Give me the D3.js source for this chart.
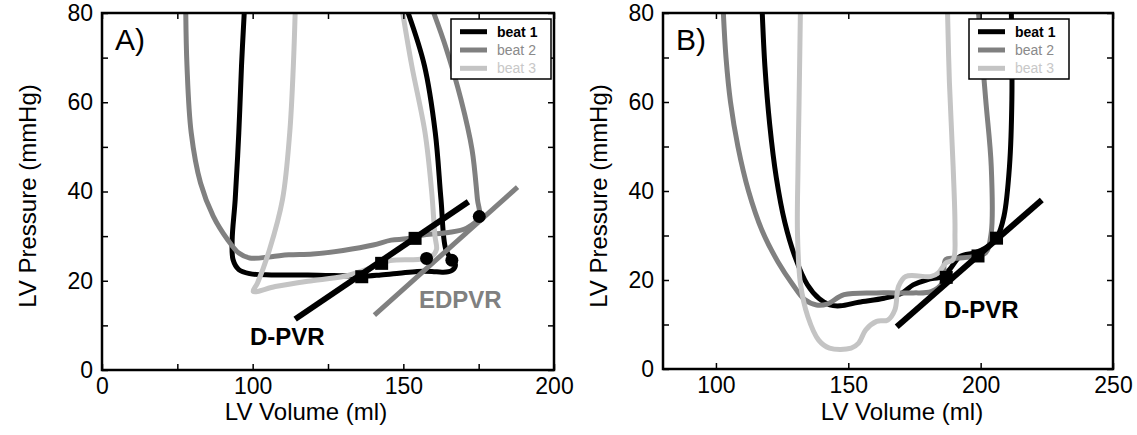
<!DOCTYPE html>
<html>
  <head>
    <meta charset="utf-8">
    <script src="https://cdn.jsdelivr.net/npm/d3@7"></script>
    <style>
      body { margin: 0; background: #fff; }
      svg { font-family: "Liberation Sans", Arial, sans-serif; }
      .tick line { stroke: #000; stroke-width: 1.5px; }
      .tick text { font-size: 23px; fill: #000; }
      .curve { fill: none; stroke-width: 5px; stroke-linejoin: round; stroke-linecap: round; }
    </style>
  </head>
  <body>
    <script>
      // colours of the three beats
      const beatNames = ['beat 1', 'beat 2', 'beat 3'];
      const beatColors = ['#000000', '#808080', '#c4c4c4'];
      const beatTextColors = ['#000000', '#8a8a8a', '#c8c8c8'];

      // panel A: pressure-volume loops (volume ml, pressure mmHg)
      const beat1A = [[97.2,80],[96.3,68.2],[95.4,53.2],[94.2,38.2],[93.2,29.2],[93.5,24.7],[95.4,22.5],[99.0,21.6],
        [106.2,21.3],[118.3,21.3],[130.4,21.1],[136.5,21.0],[142.5,21.3],[148.6,21.7],[154.6,22.1],[159.5,22.1],
        [163.1,21.9],[166.1,22.3],[167.3,23.6],[166.1,24.7],[164.1,27.0],[162.5,38.2],[160.6,53.2],[157.0,68.2],[151.6,80]];
      const beat2A = [[77.8,80],[78.2,68.2],[79.6,53.2],[82.7,41.9],[86.9,34.5],[91.7,29.2],[95.4,26.2],[99.0,25.1],
        [106.2,25.4],[112,25.8],[120,26.0],[130,26.8],[140,28.0],[146,29.1],[151,29.4],[157,30.3],[165,30.8],
        [171,31.8],[175.2,34.3],[174.6,38.2],[172.8,49.4],[169.1,60.7],[164.3,71.9],[160.1,80]];
      const beat3A = [[114.1,80],[113.5,68.2],[112.3,53.2],[109.9,38.2],[105.6,27.0],[101.6,19.5],[100.2,17.6],
        [107.5,18.7],[118.3,19.9],[130.4,21.0],[138,22.6],[145.6,24.5],[155.5,24.8],[159.5,25.5],[161.0,27.0],
        [160.5,30],[159.4,40],[157.2,53.2],[152.8,68.2],[149.8,80]];
      const dpvrA = [[114.1,11.4],[171.6,37.7]];
      const edpvrA = [[140.4,12.3],[187.9,41.0]];
      const squaresA = [[136.2,20.9],[142.8,23.9],[153.9,29.5]];
      const circlesA = [[166.1,24.6],[175.2,34.4],[157.7,25.0]];

      // panel B
      const beat1B = [[117.5,80],[118.5,68],[120.3,55],[122.8,43],[126,33],[130,25],[134.5,19],[139,15.8],
        [143,14.4],[147,14.2],[153.9,15.0],[163.5,15.9],[170.4,17.1],[174.5,18.9],[180,20.1],[185.5,20.8],
        [188.2,22.3],[192.3,25.3],[197.8,26.1],[201.9,27.2],[206.1,29.5],[208.8,34.3],[210.9,45.6],[211.8,60.6],[211.6,80]];
      const beat2B = [[102.8,80],[103.8,70],[105.5,60],[108.3,50],[112.3,40],[117.5,31],[123.5,24],[129,19],
        [133.5,15.6],[138,14.4],[142,14.6],[148.4,16.7],[160.7,17.1],[167.6,17.1],[174.5,17.1],
        [181.3,17.4],[185.5,19.3],[186.8,24.6],[191,24.9],[197.8,25.3],[201.9,26.1],[204,30.6],[204,45.6],[201.9,60.6],[199.2,80]];
      const beat3B = [[131.9,80],[131.4,60],[131.0,45],[130.8,30.6],[131.9,19.3],[134.7,11.8],[138.8,6.5],[142.9,4.7],
        [151.1,4.7],[153.9,5.8],[156.6,8.8],[160.7,10.7],[164.9,11.0],[167.6,13.3],[169,18.6],[171.7,20.8],
        [181.3,20.8],[184,21.6],[186.8,23.8],[189.6,24.6],[190.3,30.6],[189.6,45.6],[188.2,64.4],[187.5,80]];
      const dpvrB = [[168.3,9.5],[223.1,38.0]];
      const squaresB = [[187,20.6],[199,25.4],[206,29.4]];

      // ticks
      const yTickValues = [0,10,20,30,40,50,60,70,80];
      const yTickLabels = ['0','','20','','40','','60','','80'];
      const xTickValuesA = [50,75,100,125,150,175,200];
      const xTickLabelsA = ['0','','100','','150','','200'];
      const xTickValuesB = [100,150,200,250];
      const xTickLabelsB = ['100','150','200','250'];

      const svg = d3.select('body').append('svg')
        .attr('width', 1137)
        .attr('height', 435);

      const panels = [
        {id: 'A', left: 102, right: 554, top: 13, bottom: 370, xDomain: [50, 200],
         xTicks: xTickValuesA, xLabels: xTickLabelsA, beats: [beat1A, beat2A, beat3A],
         dpvr: dpvrA, edpvr: edpvrA, squares: squaresA, circles: circlesA,
         legendX: 451, xTitleX: 306, yTitleX: 36, dpvrLabel: [250, 345], edpvrLabel: [419, 308]},
        {id: 'B', left: 663, right: 1113, top: 13, bottom: 369, xDomain: [80, 250],
         xTicks: xTickValuesB, xLabels: xTickLabelsB, beats: [beat1B, beat2B, beat3B],
         dpvr: dpvrB, edpvr: null, squares: squaresB, circles: [],
         legendX: 969, xTitleX: 902, yTitleX: 607, dpvrLabel: [944, 318], edpvrLabel: null}
      ];

      panels.forEach(p => {
        const x = d3.scaleLinear().domain(p.xDomain).range([p.left, p.right]);
        const y = d3.scaleLinear().domain([0, 80]).range([p.bottom, p.top]);
        const g = svg.append('g');

        g.append('clipPath').attr('id', 'clip' + p.id)
          .append('rect')
          .attr('x', p.left).attr('y', p.top)
          .attr('width', p.right - p.left).attr('height', p.bottom - p.top);

        const line = d3.line()
          .x(d => x(d[0]))
          .y(d => y(d[1]))
          .curve(d3.curveCatmullRom.alpha(0.5));

        const plot = g.append('g').attr('clip-path', `url(#clip${p.id})`);

        p.beats.forEach((b, i) => {
          plot.append('path')
            .attr('class', 'curve')
            .attr('d', line(b))
            .attr('stroke', beatColors[i]);
        });

        if (p.edpvr) {
          plot.append('path')
            .attr('d', d3.line().x(d => x(d[0])).y(d => y(d[1]))(p.edpvr))
            .attr('stroke', '#808080')
            .attr('stroke-width', 5);
        }
        plot.append('path')
          .attr('d', d3.line().x(d => x(d[0])).y(d => y(d[1]))(p.dpvr))
          .attr('stroke', '#000')
          .attr('stroke-width', 6);

        plot.selectAll('.sq').data(p.squares).enter()
          .append('rect')
          .attr('x', d => x(d[0]) - 6.5)
          .attr('y', d => y(d[1]) - 6.5)
          .attr('width', 13).attr('height', 13)
          .attr('fill', '#000');

        plot.selectAll('.dot').data(p.circles).enter()
          .append('circle')
          .attr('cx', d => x(d[0]))
          .attr('cy', d => y(d[1]))
          .attr('r', 6.5)
          .attr('fill', '#000');

        // axes with inward ticks
        const xAxis = d3.axisBottom(x).tickValues(p.xTicks)
          .tickFormat((d, i) => p.xLabels[i]).tickSizeInner(-6).tickSizeOuter(0).tickPadding(8);
        const yAxis = d3.axisLeft(y).tickValues(yTickValues)
          .tickFormat((d, i) => yTickLabels[i]).tickSizeInner(-6).tickSizeOuter(0).tickPadding(9);
        const xTop = d3.axisTop(x).tickValues(p.xTicks).tickFormat('').tickSizeInner(-6).tickSizeOuter(0);
        const yRight = d3.axisRight(y).tickValues(yTickValues).tickFormat('').tickSizeInner(-6).tickSizeOuter(0);

        g.append('g').attr('transform', `translate(0,${p.bottom})`).call(xAxis);
        g.append('g').attr('transform', `translate(${p.left},0)`).call(yAxis);
        g.append('g').attr('transform', `translate(0,${p.top})`).call(xTop);
        g.append('g').attr('transform', `translate(${p.right},0)`).call(yRight);
        g.selectAll('.domain').remove();

        g.append('rect')
          .attr('x', p.left).attr('y', p.top)
          .attr('width', p.right - p.left).attr('height', p.bottom - p.top)
          .attr('fill', 'none').attr('stroke', '#000').attr('stroke-width', 2.5);

        // titles
        g.append('text')
          .attr('x', p.xTitleX).attr('y', 420)
          .attr('text-anchor', 'middle')
          .style('font-size', '24px')
          .text('LV Volume (ml)');
        g.append('text')
          .attr('transform', `translate(${p.yTitleX},196) rotate(-90)`)
          .attr('text-anchor', 'middle')
          .style('font-size', '24px')
          .text('LV Pressure (mmHg)');
        g.append('text')
          .attr('x', p.left + 13).attr('y', 50)
          .style('font-size', '30px')
          .text(p.id + ')');

        g.append('text')
          .attr('x', p.dpvrLabel[0]).attr('y', p.dpvrLabel[1])
          .style('font-size', '24px').style('font-weight', 'bold')
          .text('D-PVR');
        if (p.edpvrLabel) {
          g.append('text')
            .attr('x', p.edpvrLabel[0]).attr('y', p.edpvrLabel[1])
            .style('font-size', '24px').style('font-weight', 'bold')
            .attr('fill', '#808080')
            .text('EDPVR');
        }

        // legend
        const lg = g.append('g').attr('transform', `translate(${p.legendX},19)`);
        lg.append('rect')
          .attr('width', 100).attr('height', 60)
          .attr('fill', '#fff').attr('stroke', '#000').attr('stroke-width', 1.5);
        beatNames.forEach((name, i) => {
          const ly = 12.7 + i * 18.3;
          lg.append('line')
            .attr('x1', 9).attr('x2', 36).attr('y1', ly).attr('y2', ly)
            .attr('stroke', beatColors[i]).attr('stroke-width', 5);
          lg.append('text')
            .attr('x', 46).attr('y', ly)
            .attr('dy', '0.35em')
            .style('font-size', '14px')
            .style('font-weight', i === 0 ? 'bold' : 'normal')
            .attr('fill', beatTextColors[i])
            .text(name);
        });
      });
    </script>
  </body>
</html>
